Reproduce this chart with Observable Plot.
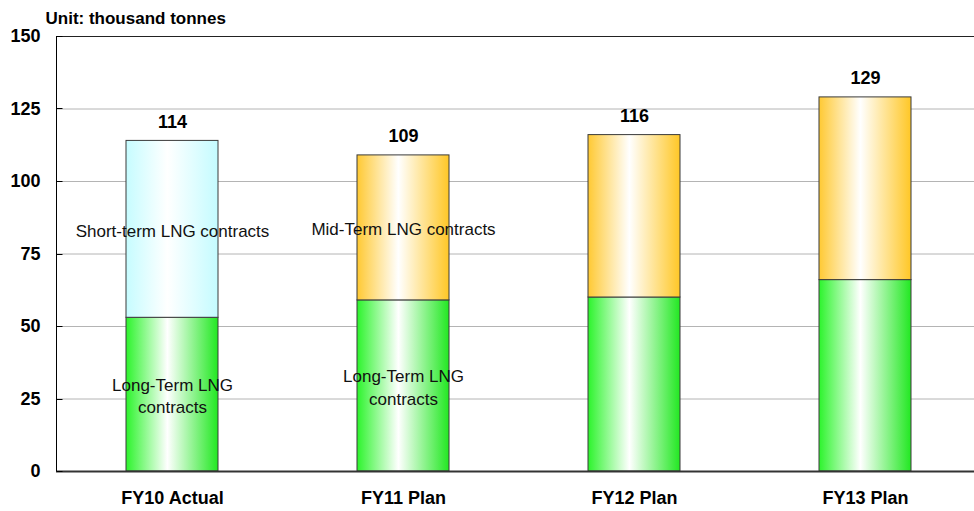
<!DOCTYPE html>
<html>
<head>
<meta charset="utf-8">
<script src="https://cdn.jsdelivr.net/npm/d3@7"></script>
<script src="https://cdn.jsdelivr.net/npm/@observablehq/plot@0.6"></script>
<style>
  html, body { margin: 0; padding: 0; background: #fff; }
  #chart svg { display: block; }
  #chart [aria-label^="y-axis"] text,
  #chart [aria-label^="x-axis"] text { font-weight: bold; font-size: 18px; }
</style>
</head>
<body>
<div id="chart"></div>
<script>
// Fiscal years on the category axis
const years = ["FY10 Actual", "FY11 Plan", "FY12 Plan", "FY13 Plan"];

// Volumes, thousand tonnes
const longTerm = [53, 59, 60, 66];
const upperTerm = [61, 50, 56, 63];
const upperKind = ["short", "mid", "mid", "mid"];

// In-bar labels (blank where a segment carries no label)
const longLabels = ["Long-Term LNG\ncontracts", "Long-Term LNG\ncontracts", "", ""];
const upperLabels = ["Short-term LNG contracts", "Mid-Term LNG contracts", "", ""];

const yTicks = [0, 25, 50, 75, 100, 125, 150];
const gridValues = [25, 50, 75, 100, 125];
const unitLabel = "Unit: thousand tonnes";

const fills = {
  long: "url(#grad-long)",
  short: "url(#grad-short)",
  mid: "url(#grad-mid)"
};

// Stacked table: long-term contracts first (bottom), then the short/mid tier
const rows = [];
years.forEach((year, i) => {
  rows.push({year, value: longTerm[i], kind: "long", label: longLabels[i]});
});
years.forEach((year, i) => {
  rows.push({year, value: upperTerm[i], kind: upperKind[i], label: upperLabels[i]});
});

const totals = years.map((year, i) => ({year, total: longTerm[i] + upperTerm[i]}));

const chart = Plot.plot({
  width: 974,
  height: 511,
  marginTop: 36,
  marginBottom: 40,
  marginLeft: 56,
  marginRight: 0,
  style: {fontFamily: "'Liberation Sans', Arial, sans-serif", fontSize: "18px", color: "#000", background: "#fff"},
  x: {
    domain: years,
    range: [56, 982],
    paddingInner: 0.6,
    paddingOuter: 0.3,
    label: null,
    tickSize: 0,
    tickPadding: 20
  },
  y: {
    domain: [0, 150],
    ticks: yTicks,
    label: null,
    tickSize: 0,
    tickPadding: 16
  },
  color: {type: "identity"},
  marks: [
    Plot.ruleY(gridValues, {stroke: "#b4b4b4", strokeWidth: 1}),
    Plot.ruleY([150], {stroke: "#222", strokeWidth: 1}),
    Plot.barY(rows, Plot.stackY({
      x: "year",
      y: "value",
      fill: d => fills[d.kind],
      stroke: "#3a3a3a",
      strokeWidth: 1
    })),
    Plot.text(rows, Plot.stackY({
      x: "year",
      y: "value",
      text: "label",
      fontSize: 17,
      fill: "#111",
      lineHeight: 1.35
    })),
    Plot.text(totals, {
      x: "year",
      y: "total",
      text: d => String(d.total),
      lineAnchor: "bottom",
      dy: -13,
      fontSize: 18,
      fontWeight: "bold",
      fill: "#000"
    }),
    Plot.ruleY([0], {stroke: "#333", strokeWidth: 2}),
    Plot.text([unitLabel], {
      frameAnchor: "top-left",
      textAnchor: "start",
      lineAnchor: "bottom",
      dx: -11,
      dy: -13,
      fontSize: 17,
      fontWeight: "bold",
      fill: "#000"
    })
  ]
});

// Horizontal gradients: saturated edges fading to white just left of centre
const svg = d3.select(chart);
const defs = svg.insert("defs", ":first-child");
const gradients = [
  {id: "grad-long", edgeL: "#2cf42c", edgeR: "#22e822"},
  {id: "grad-mid", edgeL: "#ffc933", edgeR: "#ffc726"},
  {id: "grad-short", edgeL: "#c6fcff", edgeR: "#c4fbff"}
];
gradients.forEach(g => {
  const lg = defs.append("linearGradient")
    .attr("id", g.id)
    .attr("x1", "0").attr("y1", "0")
    .attr("x2", "1").attr("y2", "0");
  lg.append("stop").attr("offset", "0").attr("stop-color", g.edgeL);
  lg.append("stop").attr("offset", "0.45").attr("stop-color", "#ffffff");
  lg.append("stop").attr("offset", "1").attr("stop-color", g.edgeR);
});

// Value axis line with short inward ticks
const yScale = chart.scale("y");
const axisX = 56.5;
const axisG = svg.append("g").attr("stroke", "#000");
axisG.append("line")
  .attr("x1", axisX).attr("x2", axisX)
  .attr("y1", yScale.apply(0)).attr("y2", yScale.apply(150));
yTicks.forEach(t => {
  axisG.append("line")
    .attr("x1", axisX).attr("x2", axisX + 6)
    .attr("y1", Math.round(yScale.apply(t)) + 0.5)
    .attr("y2", Math.round(yScale.apply(t)) + 0.5);
});

document.getElementById("chart").appendChild(chart);
</script>
</body>
</html>
